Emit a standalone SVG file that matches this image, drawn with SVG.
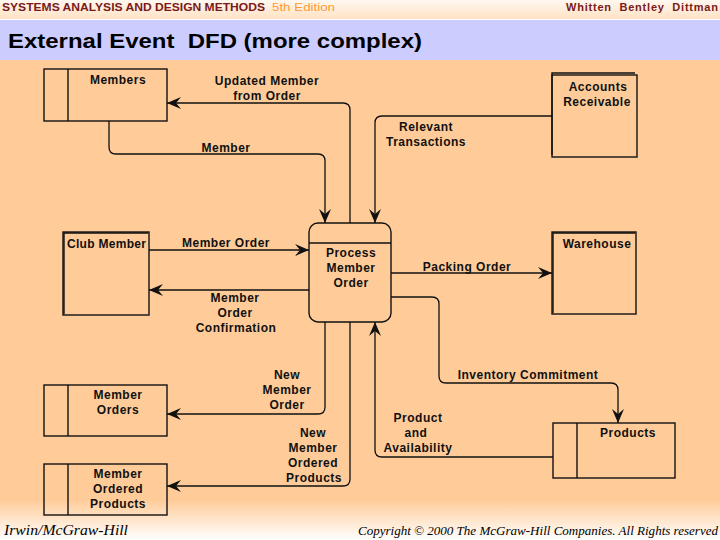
<svg xmlns="http://www.w3.org/2000/svg" width="720" height="540" viewBox="0 0 720 540">
<defs>
<linearGradient id="hdr" x1="0" y1="0" x2="0" y2="1"><stop offset="0" stop-color="#FFF8F0"/><stop offset="1" stop-color="#FFE2C4"/></linearGradient>
<linearGradient id="foot" x1="0" y1="0" x2="0" y2="1"><stop offset="0" stop-color="#FFCC99"/><stop offset="1" stop-color="#FFFFFF"/></linearGradient>
<marker id="ah" markerUnits="userSpaceOnUse" markerWidth="16" markerHeight="14" refX="14" refY="6" orient="auto"><path d="M0,0 L14,6 L0,12 L5,6 z" fill="#111"/></marker>
<style>
.lbl{font-family:"Liberation Sans",Arial,sans-serif;font-weight:bold;font-size:12px;letter-spacing:0.5px;fill:#111;text-anchor:middle}
.box{fill:none;stroke:#111;stroke-width:1.4}
.flow{fill:none;stroke:#111;stroke-width:1.3;marker-end:url(#ah)}
</style>
</defs>
<rect x="0" y="0" width="720" height="540" fill="#FFCC99"/>
<rect x="0" y="0" width="720" height="19" fill="url(#hdr)"/>
<rect x="0" y="19" width="720" height="1" fill="#FFFFFF"/>
<rect x="0" y="20" width="720" height="40" fill="#CCCCFF"/>
<rect x="0" y="500" width="720" height="40" fill="url(#foot)"/>
<text x="2" y="11" font-family="Liberation Sans,Arial,sans-serif" font-weight="bold" font-size="11" fill="#7A1A1A" textLength="263" lengthAdjust="spacingAndGlyphs">SYSTEMS ANALYSIS AND DESIGN METHODS</text>
<text x="272" y="11" font-family="Liberation Sans,Arial,sans-serif" font-size="11" fill="#FF9933" textLength="63" lengthAdjust="spacingAndGlyphs">5th Edition</text>
<text x="566" y="11" font-family="Liberation Sans,Arial,sans-serif" font-weight="bold" font-size="11" fill="#7A1A1A" textLength="152" lengthAdjust="spacing" xml:space="preserve">Whitten  Bentley  Dittman</text>
<text x="8" y="48" font-family="Liberation Sans,Arial,sans-serif" font-weight="bold" font-size="21" fill="#000" textLength="414" lengthAdjust="spacingAndGlyphs" xml:space="preserve">External Event  DFD (more complex)</text>
<text x="4" y="535" font-family="Liberation Serif,Times New Roman,serif" font-style="italic" font-size="14" fill="#000" textLength="124" lengthAdjust="spacingAndGlyphs">Irwin/McGraw-Hill</text>
<text x="358" y="535" font-family="Liberation Serif,Times New Roman,serif" font-style="italic" font-size="12" fill="#000" textLength="360" lengthAdjust="spacingAndGlyphs">Copyright © 2000 The McGraw-Hill Companies. All Rights reserved</text>

<g id="connectors">
<path class="flow" d="M350,223 V110 Q350,103 343,103 H167"/>
<path class="flow" d="M109,121 V147 Q109,154 116,154 H318 Q325,154 325,161 V223"/>
<path class="flow" d="M552,116 H382 Q375,116 375,123 V223"/>
<path class="flow" d="M149,250 H309"/>
<path class="flow" d="M309,290 H149"/>
<path class="flow" d="M391,273 H552"/>
<path class="flow" d="M391,297 H432 Q439,297 439,304 V376 Q439,383 446,383 H611 Q618,383 618,390 V423"/>
<path class="flow" d="M553,457 H382 Q375,457 375,450 V322"/>
<path class="flow" d="M325,322 V407 Q325,414 318,414 H167"/>
<path class="flow" d="M350,322 V479 Q350,486 343,486 H167"/>
<text class="lbl" x="267" y="85">Updated Member</text>
<text class="lbl" x="267" y="100">from Order</text>
<text class="lbl" x="226" y="152">Member</text>
<text class="lbl" x="426" y="131">Relevant</text>
<text class="lbl" x="426" y="146">Transactions</text>
<text class="lbl" x="226" y="247">Member Order</text>
<text class="lbl" x="235" y="302">Member</text>
<text class="lbl" x="235" y="317">Order</text>
<text class="lbl" x="236" y="332">Confirmation</text>
<text class="lbl" x="467" y="271">Packing Order</text>
<text class="lbl" x="528" y="379">Inventory Commitment</text>
<text class="lbl" x="418" y="422">Product</text>
<text class="lbl" x="416" y="437">and</text>
<text class="lbl" x="418" y="452">Availability</text>
<text class="lbl" x="287" y="379">New</text>
<text class="lbl" x="287" y="394">Member</text>
<text class="lbl" x="287" y="409">Order</text>
<text class="lbl" x="313" y="437">New</text>
<text class="lbl" x="313" y="452">Member</text>
<text class="lbl" x="313" y="467">Ordered</text>
<text class="lbl" x="314" y="482">Products</text>
</g>

<g id="members">
<rect class="box" x="44" y="69" width="123" height="52"/>
<line class="box" x1="68" y1="69" x2="68" y2="121"/>
<text class="lbl" x="118" y="84">Members</text>
</g>
<g id="accounts-receivable">
<rect class="box" x="552" y="75" width="85" height="82"/>
<path class="box" d="M552,155 V73 H635" stroke-width="1"/>
<text class="lbl" x="598" y="91">Accounts</text>
<text class="lbl" x="597" y="106">Receivable</text>
</g>
<g id="club-member">
<rect class="box" x="63" y="232" width="86" height="83"/>
<path class="box" d="M64,314 V233 H148" stroke-width="1.2"/>
<text class="lbl" x="67" y="248" style="text-anchor:start;letter-spacing:0.3px">Club Member</text>
</g>
<g id="process-member-order">
<rect class="box" x="309" y="223" width="82" height="99" rx="9"/>
<line class="box" x1="309" y1="243" x2="391" y2="243"/>
<text class="lbl" x="351" y="257">Process</text>
<text class="lbl" x="351" y="272">Member</text>
<text class="lbl" x="351" y="287">Order</text>
</g>
<g id="warehouse">
<rect class="box" x="552" y="232" width="84" height="82"/>
<path class="box" d="M553,313 V233 H635" stroke-width="1.2"/>
<text class="lbl" x="597" y="248">Warehouse</text>
</g>
<g id="products">
<rect class="box" x="553" y="423" width="122" height="55"/>
<line class="box" x1="577" y1="423" x2="577" y2="478"/>
<text class="lbl" x="628" y="437">Products</text>
</g>
<g id="member-orders">
<rect class="box" x="44" y="385" width="123" height="51"/>
<line class="box" x1="68" y1="385" x2="68" y2="436"/>
<text class="lbl" x="118" y="399">Member</text>
<text class="lbl" x="118" y="414">Orders</text>
</g>
<g id="member-ordered-products">
<rect class="box" x="44" y="464" width="123" height="51"/>
<line class="box" x1="68" y1="464" x2="68" y2="515"/>
<text class="lbl" x="118" y="478">Member</text>
<text class="lbl" x="118" y="493">Ordered</text>
<text class="lbl" x="118" y="508">Products</text>
</g>
</svg>
